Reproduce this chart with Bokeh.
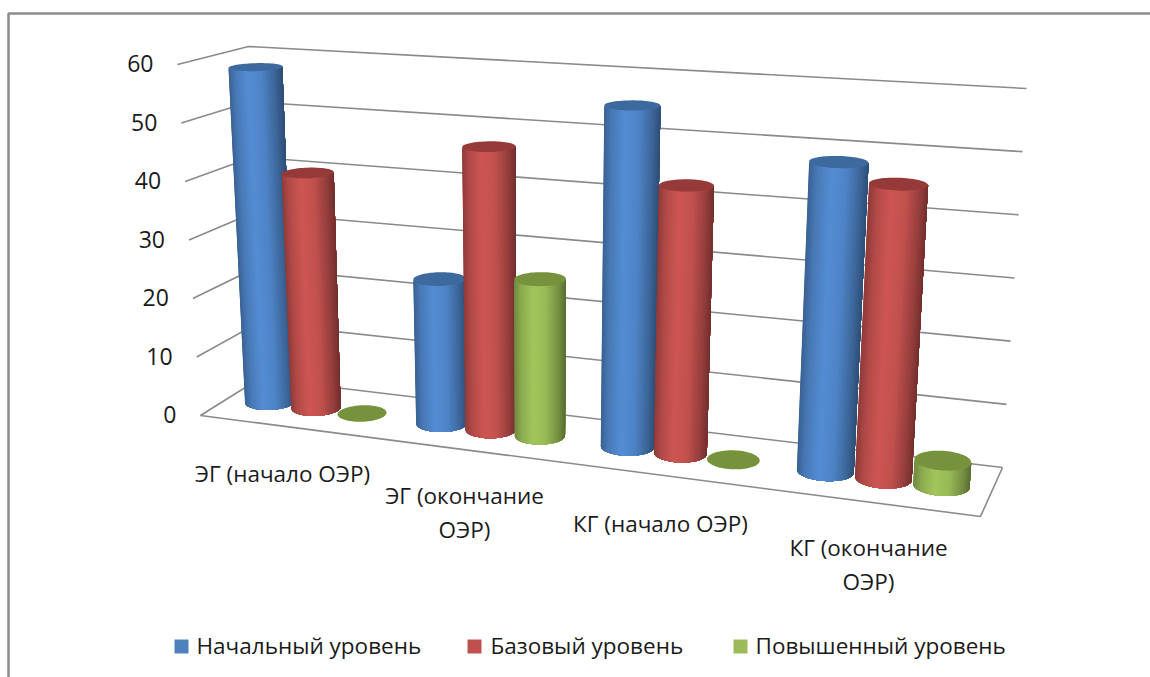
from bokeh.plotting import figure
from bokeh.models import ColumnDataSource, Range1d
from bokeh.core.properties import value as V
from bokeh.embed import file_html
from bokeh.resources import INLINE
import math

categories = ["ЭГ (начало ОЭР)", "ЭГ (окончание\nОЭР)", "КГ (начало ОЭР)", "КГ (окончание\nОЭР)"]
series_names = ["Начальный уровень", "Базовый уровень", "Повышенный уровень"]
nachalny = [58.4, 24.4, 55.8, 48.9]
bazovy = [40.6, 47.4, 43.4, 46.1]
povyshenny = [0, 26.0, 0, 3.9]
ticks = [0, 10, 20, 30, 40, 50, 60]
series_values = [nachalny, bazovy, povyshenny]

# styles
body_colors = [(84, 141, 212), (206, 86, 83), (162, 198, 92)]
top_colors = ["#3d6a9e", "#953a38", "#76923c"]
legend_colors = ["#4f81bd", "#c0504d", "#9bbb59"]
GRID = "#8a8a8a"
FONT = "Open Sans"

# 3D box layout (page pixels): floor and z=60 corners
F0, F1, B0, B1 = (200, 415), (980, 516), (259, 378), (1002, 467)
T_F0, T_F1, T_B0, T_B1 = (177, 64), (1008, 115), (248, 46), (1026, 88)
ZMAX = 60.0
cat_u = [0.1130, 0.3425, 0.5915, 0.858]
cat_step = [0.0605, 0.0645, 0.0696, 0.0762]
DEPTH = 0.5
RV = 0.2


def lerp(a, b, t):
    return a + (b - a) * t


def proj(u, v, z):
    out = []
    for k in (0, 1):
        low = lerp(lerp(F0[k], F1[k], u), lerp(B0[k], B1[k], u), v)
        high = lerp(lerp(T_F0[k], T_F1[k], u), lerp(T_B0[k], T_B1[k], u), v)
        out.append(lerp(low, high, z / ZMAX))
    return out


def shade(t):
    pts = [(0, .70), (.12, .86), (.35, 1.0), (.6, .94), (.85, .72), (1, .55)]
    for (a, fa), (b, fb) in zip(pts, pts[1:]):
        if t <= b:
            return lerp(fa, fb, (t - a) / (b - a))
    return pts[-1][1]


def hexcol(rgb, f):
    return "#%02x%02x%02x" % tuple(min(255, int(c * f)) for c in rgb)


p = figure(width=1150, height=677, output_backend="svg", toolbar_location=None,
           x_range=Range1d(0, 1150), y_range=Range1d(677, 0), min_border=0,
           background_fill_color="white", border_fill_color="white", outline_line_color=None)
p.axis.visible = False
p.grid.visible = False

# frame
p.line([8, 8, 1150], [677, 13, 13], line_color="#8c8c8c", line_width=2.5)

# walls and floor
gx, gy = [], []
for t in ticks:
    a, b, c = proj(0, 0, t), proj(0, 1, t), proj(1, 1, t)
    gx.append([a[0], b[0], c[0]])
    gy.append([a[1], b[1], c[1]])
a, b, c = proj(0, 0, 0), proj(1, 0, 0), proj(1, 1, 0)
gx.append([a[0], b[0], c[0]])
gy.append([a[1], b[1], c[1]])
p.multi_line(gx, gy, line_color=GRID, line_width=1.6)

# cylinders
px, py, pc = [], [], []
N = 72
for ci in range(len(categories)):
    for si, vals in enumerate(series_values):
        z = vals[ci]
        uc = cat_u[ci] + (si - 1) * cat_step[ci]
        ru = cat_step[ci] * 0.48
        angles = [2 * math.pi * i / N for i in range(N)]
        bottom = [proj(uc + ru * math.cos(a), DEPTH + RV * math.sin(a), 0) for a in angles]
        top = [proj(uc + ru * math.cos(a), DEPTH + RV * math.sin(a), z) for a in angles]
        if z > 0:
            xs = [q[0] for q in bottom]
            xmin, xmax = min(xs), max(xs)
            i0, i1 = xs.index(xmin), xs.index(xmax)
            step = 1
            if bottom[(i0 + 1) % N][1] < bottom[(i0 - 1) % N][1]:
                step = -1
            arc = [i0]
            while arc[-1] != i1:
                arc.append((arc[-1] + step) % N)
            # painter's strips: each one reaches the right silhouette, so no seams show
            for k in range(len(arc) - 1):
                rest = arc[k:]
                px.append([bottom[i][0] for i in rest] + [top[i][0] for i in reversed(rest)])
                py.append([bottom[i][1] for i in rest] + [top[i][1] for i in reversed(rest)])
                t = (bottom[arc[k]][0] - xmin) / (xmax - xmin)
                pc.append(hexcol(body_colors[si], shade(t)))
        px.append([q[0] for q in top])
        py.append([q[1] for q in top])
        pc.append(top_colors[si])

src = ColumnDataSource(dict(xs=px, ys=py, c=pc))
p.patches("xs", "ys", source=src, fill_color="c", line_color=None)

# tick labels follow the front edge of the left wall
tx = [proj(0, 0, t)[0] - 24 for t in ticks]
ty = [proj(0, 0, t)[1] - 1 for t in ticks]
p.text(tx, ty, text=[str(t) for t in ticks], text_align="right", text_baseline="middle",
       text_font=V(FONT), text_font_size="23px", text_color="#1a1a1a")

# category labels
label_x = [282, 464, 660, 868]
label_y = [473, 512, 523, 564]
p.text(label_x, label_y, text=categories, text_align="center", text_baseline="middle",
       text_font=V(FONT), text_font_size="22.5px", text_color="#1a1a1a", text_line_height=1.1)

# legend
sq_x = [174, 467, 733]
txt_x = [196, 490, 755]
p.quad(left=sq_x, right=[x + 14 for x in sq_x], top=[639] * 3, bottom=[653] * 3,
       fill_color=legend_colors, line_color=None)
p.text(txt_x, [645] * 3, text=series_names, text_align="left", text_baseline="middle",
       text_font=V(FONT), text_font_size="22.5px", text_color="#1a1a1a")

open("out.html", "w").write(file_html(p, INLINE))
